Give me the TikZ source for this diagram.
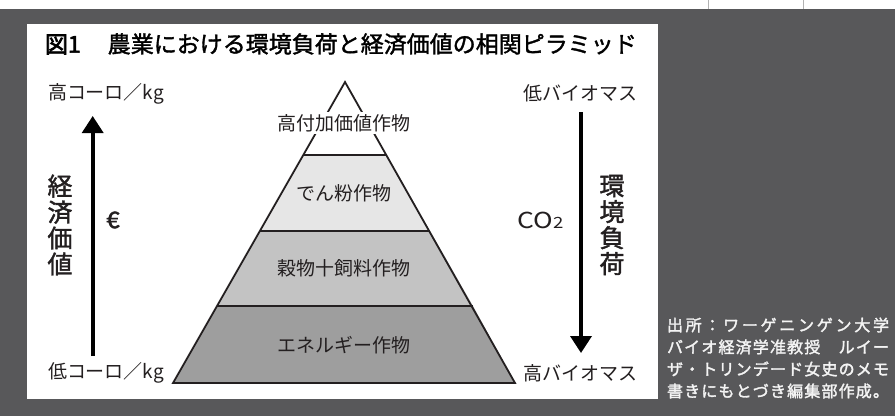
\documentclass[tikz,border=0pt]{standalone}
\usepackage{fontspec}
\setmainfont{Noto Sans CJK JP}
\newfontfamily\medfont[FakeBold=1.6]{Noto Sans CJK JP}
\newfontfamily\heavyfont[FakeBold=3]{Noto Sans CJK JP}
\newfontfamily\notefont[FakeBold=2]{Noto Sans CJK JP}
\usetikzlibrary{arrows.meta}
\definecolor{bgdark}{HTML}{58585A}
\definecolor{ink}{HTML}{231F20}
\definecolor{layerA}{HTML}{FFFFFF}
\definecolor{layerB}{HTML}{E6E6E6}
\definecolor{layerC}{HTML}{C3C3C3}
\definecolor{layerD}{HTML}{9E9E9E}
\definecolor{notetext}{HTML}{F4F4F4}
\tikzset{
  lbl/.style={inner sep=0pt, outer sep=0pt, text=ink},
  sidelbl/.style={lbl, anchor=west, font=\fontsize{19}{22}\selectfont},
  layerlbl/.style={lbl, font=\fontsize{19}{22}\selectfont},
  vertlbl/.style={lbl, align=center, font=\medfont\fontsize{25}{26}\selectfont},
  notelbl/.style={inner sep=0pt, outer sep=0pt, anchor=west, text=notetext, font=\notefont\fontsize{16}{18}\selectfont},
  symlbl/.style={lbl, font=\fontsize{19}{22}\selectfont},
  bigarrow/.style={draw=black, line width=3.6pt, -{Triangle[length=17pt,width=21pt]}},
  layeredge/.style={draw=ink, line width=1.8pt, line join=miter}
}
\begin{document}
\begin{tikzpicture}[x=1pt,y=-1pt]
\useasboundingbox (0,0) rectangle (895,416);
\fill[white] (0,0) rectangle (895,416);
% faint top artefact
\draw[gray!60, line width=0.7pt] (708,0) -- (708,9);
\draw[gray!60, line width=0.7pt] (803,0) -- (803,9);
% backgrounds
\fill[bgdark] (0,9) rectangle (895,416);
\fill[white] (27,24) rectangle (658,399);

% title
\node[lbl, anchor=west, text=black, font=\medfont\fontsize{23}{26}\selectfont] (title) at (45,44)
  {{\heavyfont 図1}\hspace{27pt}農業における環境負荷と経済価値の相関ピラミッド};

% pyramid layers
\coordinate (apex) at (345,82);
\coordinate (l1) at (303.3,155); \coordinate (r1) at (386.7,155);
\coordinate (l2) at (259.9,231); \coordinate (r2) at (430.1,231);
\coordinate (l3) at (217,306);   \coordinate (r3) at (473,306);
\coordinate (l4) at (173,383);   \coordinate (r4) at (515,383);
\fill[layerA] (apex) -- (r1) -- (l1) -- cycle;
\fill[layerB] (l1) -- (r1) -- (r2) -- (l2) -- cycle;
\fill[layerC] (l2) -- (r2) -- (r3) -- (l3) -- cycle;
\fill[layerD] (l3) -- (r3) -- (r4) -- (l4) -- cycle;
\draw[layeredge] (apex) -- (r4) -- (l4) -- cycle;
\draw[layeredge] (l1) -- (r1);
\draw[layeredge] (l2) -- (r2);
\draw[layeredge] (l3) -- (r3);

\node[layerlbl, fill=white, inner sep=2pt] (t1) at (344,123) {高付加価値作物};
\node[layerlbl] (t2) at (344,193) {でん粉作物};
\node[layerlbl] (t3) at (344,268) {穀物十飼料作物};
\node[layerlbl] (t4) at (344,345) {エネルギー作物};

% left side
\node[sidelbl] (hiyen) at (48,94) {高コーロ／kg};
\node[sidelbl] (loyen) at (48,373) {低コーロ／kg};
\coordinate (lbot) at (92.7,356);
\coordinate (ltop) at (92.7,116);
\draw[bigarrow] (lbot) -- (ltop);
\node[vertlbl] (econ) at (60,225) {経\\済\\価\\値};
\node[symlbl] (euro) at (113,220) {\scalebox{1.05}[1]{\medfont\fontsize{23}{26}\selectfont €}};

% right side
\node[sidelbl] (lobio) at (523,93) {低バイオマス};
\node[sidelbl] (hibio) at (523,373) {高バイオマス};
\coordinate (rtop) at (581,112);
\coordinate (rbot) at (581,353);
\draw[bigarrow] (rtop) -- (rbot);
\node[vertlbl] (envi) at (612,225) {環\\境\\負\\荷};
\node[symlbl] (co2) at (540.5,220) {\scalebox{1.2}[1]{\fontsize{22}{26}\selectfont CO{\fontsize{15.5}{18}\selectfont 2}}};

% source note
\node[notelbl] (n1) at (667,325) {\makebox[222pt][s]{出\hfil 所\hfil ：\hfil ワ\hfil ー\hfil ゲ\hfil ニ\hfil ン\hfil ゲ\hfil ン\hfil 大\hfil 学}};
\node[notelbl] (n2) at (667,347) {\makebox[222pt][s]{バ\hfil イ\hfil オ\hfil 経\hfil 済\hfil 学\hfil 准\hfil 教\hfil 授\hfil 　\hfil ル\hfil イ\hfil ー}};
\node[notelbl] (n3) at (667,369) {\makebox[222pt][s]{ザ\hfil ・\hfil ト\hfil リ\hfil ン\hfil デ\hfil ー\hfil ド\hfil 女\hfil 史\hfil の\hfil メ\hfil モ}};
\node[notelbl] (n4) at (667,391) {\makebox[222pt][s]{書\hfil き\hfil に\hfil も\hfil と\hfil づ\hfil き\hfil 編\hfil 集\hfil 部\hfil 作\hfil 成\hfil 。}};
\end{tikzpicture}
\end{document}
